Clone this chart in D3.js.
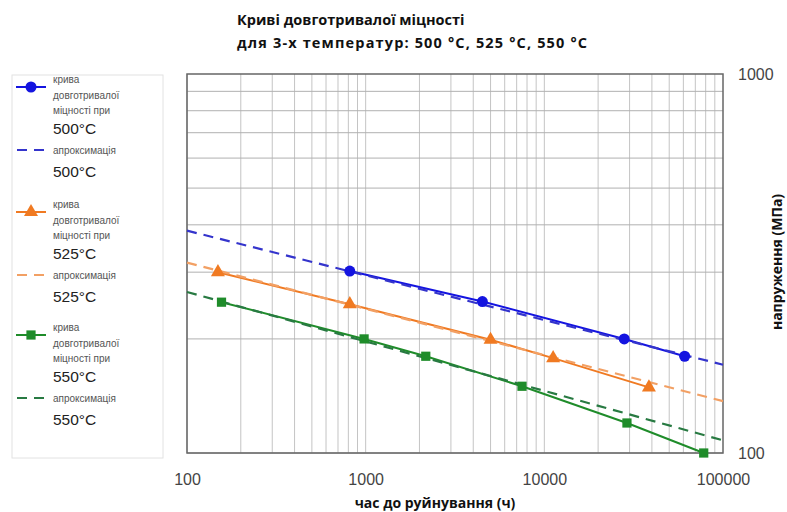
<!DOCTYPE html>
<html><head><meta charset="utf-8">
<script src="https://cdn.jsdelivr.net/npm/d3@7"></script>
<style>
html,body{margin:0;padding:0;background:#fff;}
svg{display:block;}
</style></head>
<body>
<svg id="chart" width="787" height="512"></svg>
<script>
// ---- data ----
const times500 = [815, 4500, 28000, 61000];
const stress500 = [302, 251, 200, 180];
const times525 = [149, 815, 5000, 11200, 38500];
const stress525 = [300, 247, 199, 178, 149];
const times550 = [156, 980, 2170, 7500, 29000, 78000];
const stress550 = [250, 200, 180, 150, 120, 100];
const approxTimes = [100, 100000];
const approx500 = [386, 171];
const approx525 = [318, 137];
const approx550 = [266, 108];
const xTickLabels = [100, 1000, 10000, 100000];
const yTickLabels = [100, 1000];
const titleLines = ["Криві довготривалої міцності", "для 3-х температур: 500 °C, 525 °C, 550 °C"];
const xTitle = "час до руйнування (ч)";
const yTitle = "напруження (МПа)";
const temps = ["500°C", "525°C", "550°C"];

const svg = d3.select("#chart");
const L = 187, R = 723, T = 74, B = 453;
const x = d3.scaleLog().domain([100, 100000]).range([L, R]);
const y = d3.scaleLog().domain([100, 1000]).range([B, T]);

// grid
const xGrid = [];
for (let d = 100; d < 100000; d *= 10) for (let k = 1; k <= 9; k++) xGrid.push(d * k);
const yGrid = [];
for (let k = 1; k <= 9; k++) yGrid.push(100 * k);
svg.append("g").selectAll("line").data(xGrid).join("line")
  .attr("x1", d => x(d)).attr("x2", d => x(d)).attr("y1", T).attr("y2", B)
  .attr("stroke", "#c4c4c4").attr("stroke-width", 1);
svg.append("g").selectAll("line").data(yGrid).join("line")
  .attr("x1", L).attr("x2", R).attr("y1", d => y(d)).attr("y2", d => y(d))
  .attr("stroke", "#b0b0b0").attr("stroke-width", 1);

// frame
svg.append("rect").attr("x", L).attr("y", T).attr("width", R - L).attr("height", B - T)
  .attr("fill", "none").attr("stroke", "#666").attr("stroke-width", 1.5);

// axes
const xAxis = svg.append("g").attr("transform", `translate(0,${B})`)
  .call(d3.axisBottom(x).tickValues(xTickLabels).tickSize(0).tickPadding(21).tickFormat(d3.format("d")));
xAxis.select(".domain").remove();
xAxis.selectAll("text").attr("font-family", "Liberation Sans, Arial, sans-serif").attr("font-size", 16).attr("fill", "#444");

const yAxis = svg.append("g").attr("transform", `translate(${R},0)`)
  .call(d3.axisRight(y).tickValues(yTickLabels).tickSize(0).tickPadding(15).tickFormat(d3.format("d")));
yAxis.select(".domain").remove();
yAxis.selectAll("text").attr("font-family", "Liberation Sans, Arial, sans-serif").attr("font-size", 16).attr("fill", "#444");

// titles
titleLines.forEach((t, i) => {
  const el = svg.append("text").attr("x", 237).attr("y", 25 + i * 23)
    .attr("font-family", "Open Sans, sans-serif").attr("font-weight", "bold")
    .attr("font-size", 14.5).attr("fill", "#111").text(t);
  if (i === 1) el.attr("textLength", 350).attr("lengthAdjust", "spacing");
});

svg.append("text").attr("x", 435).attr("y", 508).attr("text-anchor", "middle")
  .attr("font-family", "Open Sans, sans-serif").attr("font-weight", "bold").attr("font-size", 14).attr("fill", "#111")
  .text(xTitle);
svg.append("text").attr("transform", `translate(782,${262}) rotate(-90)`).attr("text-anchor", "middle")
  .attr("font-family", "Open Sans, sans-serif").attr("font-weight", "bold").attr("font-size", 14).attr("fill", "#111")
  .text(yTitle);

// series
const series = [
  {t: times500, s: stress500, a: approx500, col: "#1414e0", dcol: "#3434cc", marker: "circle"},
  {t: times525, s: stress525, a: approx525, col: "#f07a22", dcol: "#f2a064", marker: "triangle"},
  {t: times550, s: stress550, a: approx550, col: "#1f8c2a", dcol: "#287a42", marker: "square"}
];
const line = d3.line().x(d => x(d[0])).y(d => y(d[1]));
const symSize = {circle: 95, triangle: 85, square: 85};
const symType = {circle: d3.symbolCircle, triangle: d3.symbolTriangle, square: d3.symbolSquare};

const plot = svg.append("g");
series.forEach(sr => {
  plot.append("path").datum(d3.zip(sr.t, sr.s)).attr("d", line)
    .attr("fill", "none").attr("stroke", sr.col).attr("stroke-width", 2);
});
series.forEach(sr => {
  plot.append("path").datum(d3.zip(approxTimes, sr.a)).attr("d", line)
    .attr("fill", "none").attr("stroke", sr.dcol).attr("stroke-width", 2.2).attr("stroke-dasharray", "10,7");
});
series.forEach(sr => {
  plot.append("g").selectAll("path").data(d3.zip(sr.t, sr.s)).join("path")
    .attr("transform", d => `translate(${x(d[0])},${y(d[1])})`)
    .attr("d", d3.symbol().type(symType[sr.marker]).size(symSize[sr.marker]))
    .attr("fill", sr.col);
});

// legend
const lg = svg.append("g");
lg.append("rect").attr("x", 12).attr("y", 75).attr("width", 151).attr("height", 383)
  .attr("fill", "#fff").attr("stroke", "#e2e2e2").attr("stroke-width", 1);
const blockY = [0, 125, 248];
const small = {family: "Liberation Sans, Arial, sans-serif", size: 10, fill: "#555"};
const big = {family: "Liberation Sans, Arial, sans-serif", size: 15.5, fill: "#222"};
series.forEach((sr, i) => {
  const oy = blockY[i];
  const my = 87 + oy;
  lg.append("line").attr("x1", 16).attr("x2", 46).attr("y1", my).attr("y2", my)
    .attr("stroke", sr.col).attr("stroke-width", 2);
  lg.append("path").attr("transform", `translate(31,${my})`)
    .attr("d", d3.symbol().type(symType[sr.marker]).size(symSize[sr.marker]))
    .attr("fill", sr.col);
  const lines1 = ["крива", "довготривалої", "міцності при"];
  lines1.forEach((t, j) => {
    lg.append("text").attr("x", 53).attr("y", 83 + oy + j * 15.5).text(t)
      .attr("font-family", small.family).attr("font-size", small.size).attr("fill", small.fill);
  });
  lg.append("text").attr("x", 53).attr("y", 134 + oy).text(temps[i])
    .attr("font-family", big.family).attr("font-size", big.size).attr("fill", big.fill);
  const dy = 150 + oy;
  lg.append("line").attr("x1", 17).attr("x2", 46).attr("y1", dy).attr("y2", dy)
    .attr("stroke", sr.dcol).attr("stroke-width", 2.2).attr("stroke-dasharray", "10,7");
  lg.append("text").attr("x", 53).attr("y", dy + 3.5).text("апроксимація")
    .attr("font-family", small.family).attr("font-size", small.size).attr("fill", small.fill);
  lg.append("text").attr("x", 53).attr("y", 177 + oy).text(temps[i])
    .attr("font-family", big.family).attr("font-size", big.size).attr("fill", big.fill);
});
</script>
</body></html>
